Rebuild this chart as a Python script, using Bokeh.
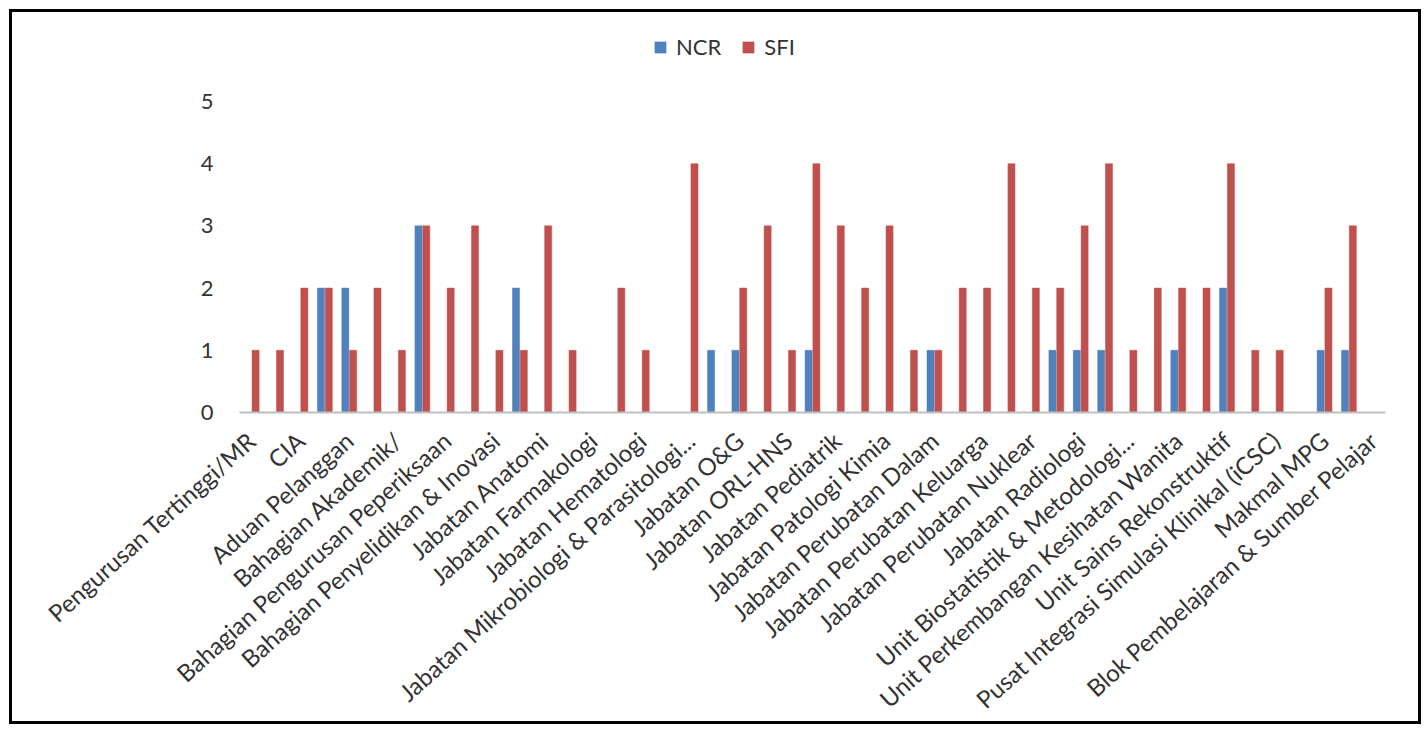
from bokeh.plotting import figure
from bokeh.models import Range1d, FixedTicker, Legend, LegendItem, ColumnDataSource
from bokeh.transform import dodge
from bokeh.embed import file_html
from bokeh.resources import INLINE
from math import radians

# Tick labels (Excel shows every second category)
tick_labels = [
    "Pengurusan Tertinggi/MR",
    "CIA",
    "Aduan Pelanggan",
    "Bahagian Akademik/",
    "Bahagian Pengurusan Peperiksaan",
    "Bahagian Penyelidikan & Inovasi",
    "Jabatan Anatomi",
    "Jabatan Farmakologi",
    "Jabatan Hematologi",
    "Jabatan Mikrobiologi & Parasitologi...",
    "Jabatan O&G",
    "Jabatan ORL-HNS",
    "Jabatan Pediatrik",
    "Jabatan Patologi Kimia",
    "Jabatan Perubatan Dalam",
    "Jabatan Perubatan Keluarga",
    "Jabatan Perubatan Nuklear",
    "Jabatan Radiologi",
    "Unit Biostatistik & Metodologi...",
    "Unit Perkembangan Kesihatan Wanita",
    "Unit Sains Rekonstruktif",
    "Pusat Integrasi Simulasi Klinikal (iCSC)",
    "Makmal MPG",
    "Blok Pembelajaran & Sumber Pelajar",
]

ncr = [0, 0, 0, 2, 2, 0, 0, 3, 0, 0, 0, 2, 0, 0, 0, 0, 0, 0, 0, 1, 1, 0, 0, 1,
       0, 0, 0, 0, 1, 0, 0, 0, 0, 1, 1, 1, 0, 0, 1, 0, 2, 0, 0, 0, 1, 1, 0]
sfi = [1, 1, 2, 2, 1, 2, 1, 3, 2, 3, 1, 1, 3, 1, 0, 2, 1, 0, 4, 0, 2, 3, 1, 4,
       3, 2, 3, 1, 1, 2, 2, 4, 2, 2, 3, 4, 1, 2, 2, 2, 4, 1, 1, 0, 2, 3, 0]

series = ["NCR", "SFI"]
colors = ["#4F81BD", "#C0504D"]
y_ticks = [0, 1, 2, 3, 4, 5]

n = len(sfi)
idx = list(range(n))
source = ColumnDataSource(dict(x=idx, NCR=ncr, SFI=sfi))

FONT = "Lato"
TEXT = "#333333"

# frame extends above the top tick so the legend (inside the frame) sits above it
p = figure(width=1412, height=715, output_backend="svg", toolbar_location=None,
           x_range=Range1d(-0.5, n - 0.5), y_range=Range1d(0, 6.14),
           min_border_left=227, min_border_right=39, min_border_top=18,
           min_border_bottom=315)
p.styles = {"margin-left": "9px", "margin-top": "9px", "border": "3px solid black"}
p.outline_line_color = None
p.xgrid.grid_line_color = None
p.ygrid.grid_line_color = None
p.background_fill_color = "white"
p.border_fill_color = "white"

w = 0.29
r1 = p.vbar(x=dodge("x", -0.16, range=p.x_range), top=series[0], width=w, source=source,
            fill_color=colors[0], line_color=colors[0], line_width=0.5)
r2 = p.vbar(x=dodge("x", 0.16, range=p.x_range), top=series[1], width=w, source=source,
            fill_color=colors[1], line_color=colors[1], line_width=0.5)

# x axis
xa = p.xaxis[0]
xa.ticker = FixedTicker(ticks=idx[::2])
xa.major_label_overrides = {i: lab for i, lab in zip(idx[::2], tick_labels)}
xa.major_label_orientation = radians(42)
xa.major_label_text_font = FONT
xa.major_label_text_font_size = "24px"
xa.major_label_text_color = TEXT
xa.major_label_standoff = 18
xa.axis_line_color = "#bfbfbf"
xa.axis_line_width = 2
xa.major_tick_line_color = None
xa.minor_tick_line_color = None

# y axis
ya = p.yaxis[0]
ya.ticker = FixedTicker(ticks=y_ticks)
ya.major_label_text_font = FONT
ya.major_label_text_font_size = "22px"
ya.major_label_text_color = TEXT
ya.major_label_standoff = 20
ya.axis_line_color = None
ya.major_tick_line_color = None
ya.minor_tick_line_color = None

legend = Legend(items=[LegendItem(label=series[0], renderers=[r1]),
                       LegendItem(label=series[1], renderers=[r2])],
                orientation="horizontal", location=(414, 352),
                label_text_font=FONT, label_text_font_size="22px",
                label_text_color=TEXT, glyph_width=14, glyph_height=14,
                spacing=20, padding=0, margin=0, label_standoff=9,
                border_line_color=None, background_fill_alpha=0)
p.add_layout(legend, "center")

open("out.html", "w").write(file_html(p, INLINE))
